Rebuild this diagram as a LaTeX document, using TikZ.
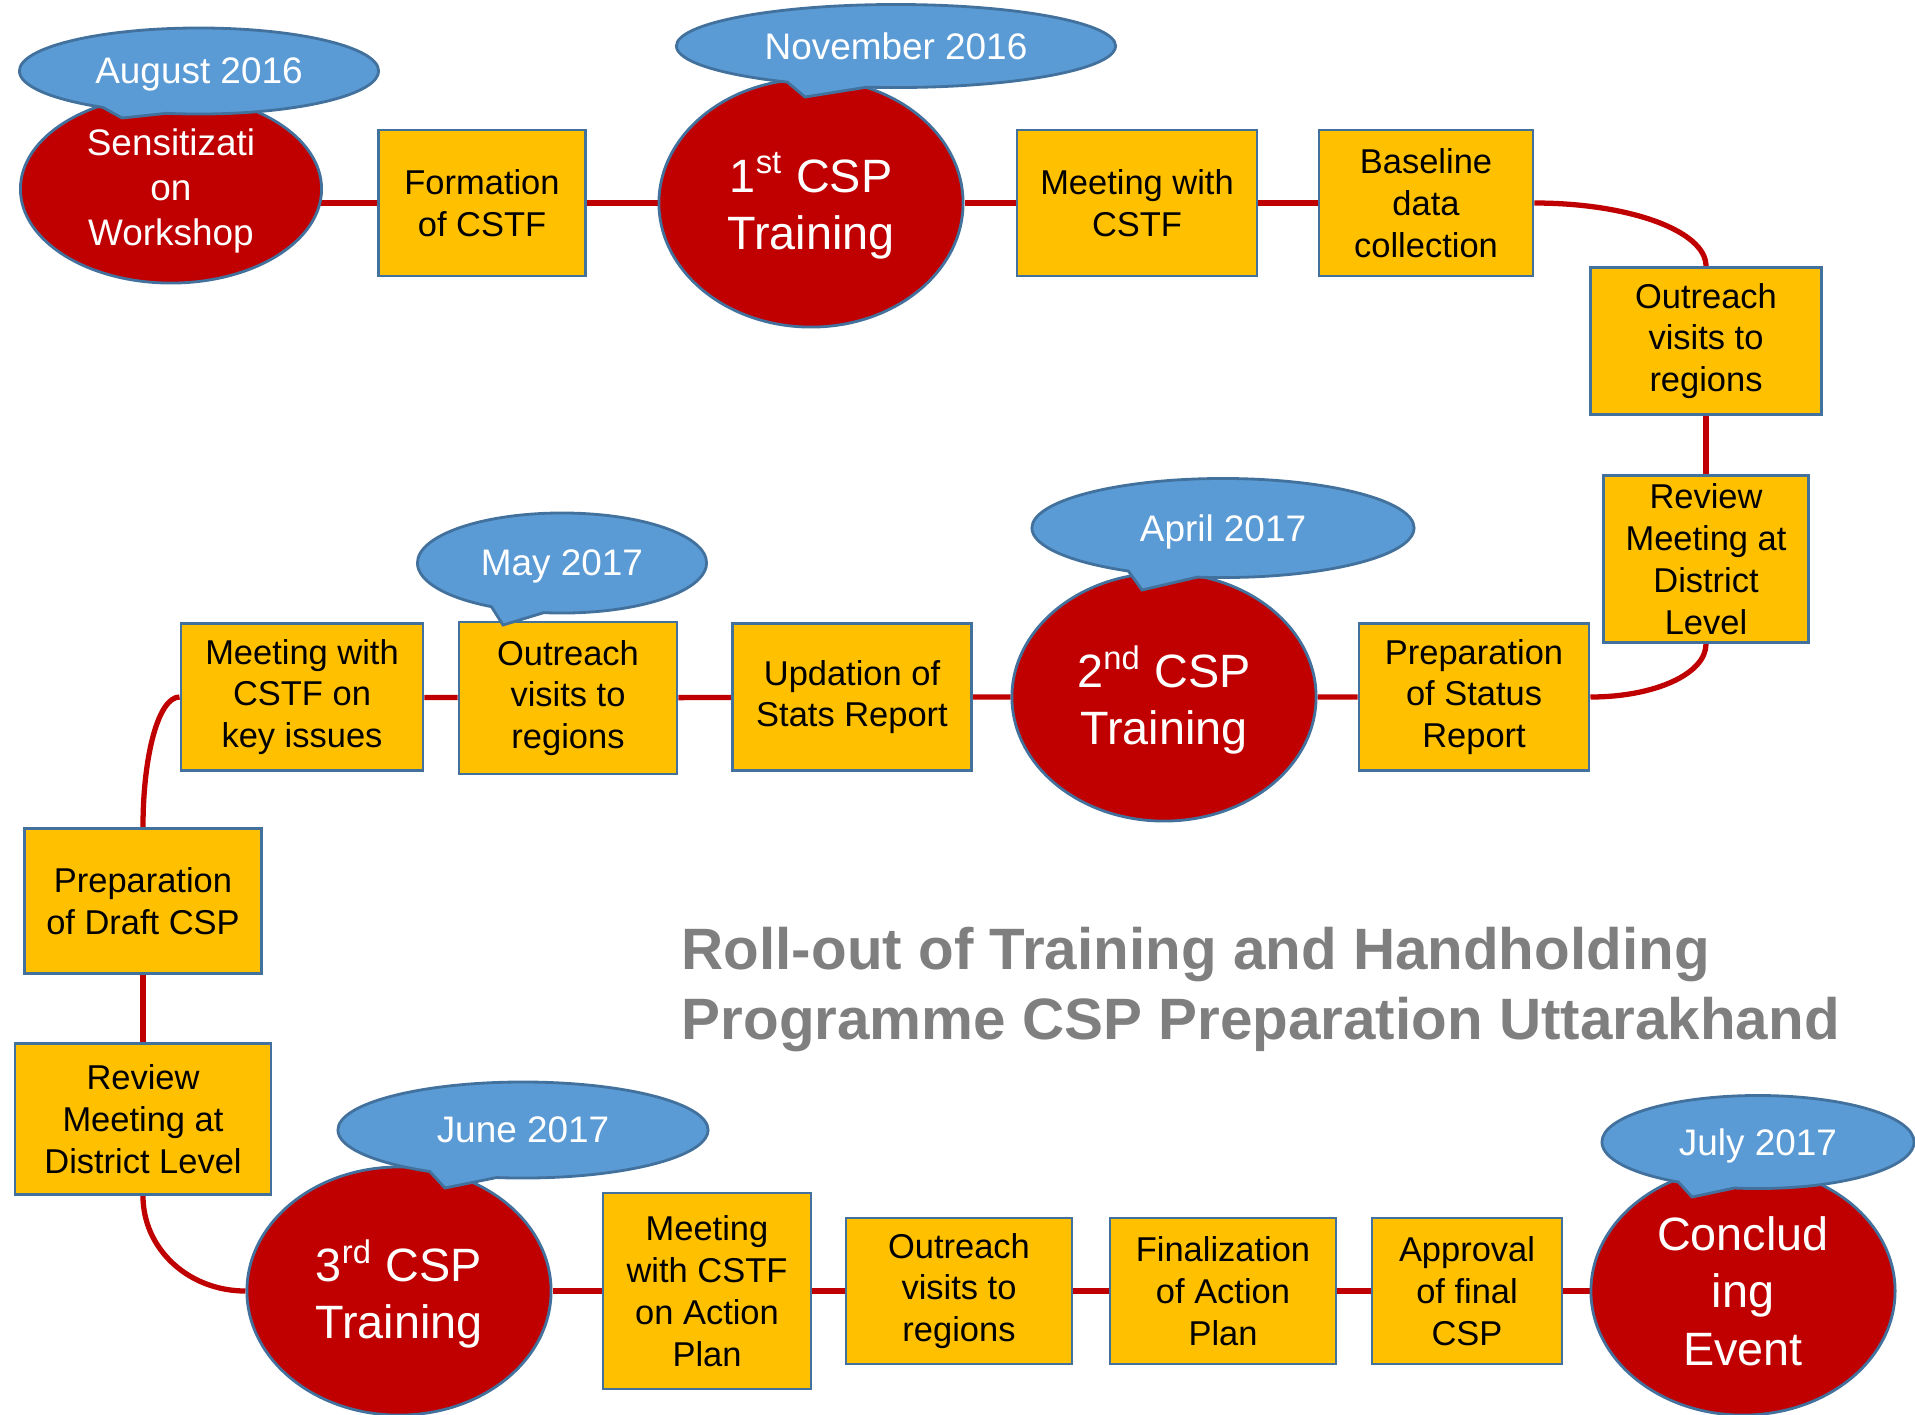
\documentclass[tikz,border=0pt]{standalone}
\usepackage{fontspec}
\setmainfont{Liberation Sans}
\usetikzlibrary{shapes.geometric,shapes.callouts,backgrounds}

\definecolor{eventred}{RGB}{192,0,0}
\definecolor{stepgold}{RGB}{255,192,0}
\definecolor{dateblue}{RGB}{91,155,213}
\definecolor{edgeblue}{RGB}{65,113,156}
\definecolor{titlegray}{RGB}{127,127,127}

\begin{document}
\begin{tikzpicture}[x=0.01cm,y=-0.01cm]

	% styles
	\tikzstyle{event}=[ellipse,draw=edgeblue,line width=0.8pt,fill=eventred,text=white,inner sep=0pt,align=center,text depth=1pt,minimum width=3.04cm,minimum height=2.48cm,font=\fontsize{13.3}{16.3}\selectfont];
	\tikzstyle{task}=[rectangle,draw=edgeblue,line width=0.8pt,fill=stepgold,inner sep=0pt,align=center,minimum height=1.46cm,font=\fontsize{9.8}{11.9}\selectfont];
	\tikzstyle{datebubble}=[ellipse callout,draw=edgeblue,line width=0.8pt,fill=dateblue,text=white,inner sep=0pt,text depth=0pt,callout pointer arc=22,font=\fontsize{10.5}{12.6}\selectfont];
	\tikzstyle{track}=[draw=eventred,line width=1.5pt];

	% page frame
	\useasboundingbox (0,0) rectangle (1915,1414);

	% first row, left to right
	\node[event,minimum width=3.01cm,minimum height=1.88cm,font=\fontsize{10.5}{12.8}\selectfont] (sensit) at (171,189) {Sensitizati\\on\\Workshop};
	\node[task,minimum width=2.07cm] (formcstf) at (482,203) {Formation\\of CSTF};
	\node[event] (csp1) at (811,203) {1\textsuperscript{st} CSP\\Training};
	\node[task,minimum width=2.40cm] (meetcstf) at (1137,203) {Meeting with\\CSTF};
	\node[task,minimum width=2.14cm] (baseline) at (1426,203) {Baseline\\data\\collection};

	% right side, going down
	\node[task,minimum width=2.31cm,minimum height=1.47cm] (outreachA) at (1706,341) {Outreach\\visits to\\regions};
	\node[task,minimum width=2.05cm,minimum height=1.67cm] (reviewA) at (1706,559) {Review\\Meeting at\\District\\Level};

	% second row, right to left
	\node[task,minimum width=2.30cm,minimum height=1.47cm] (statusrep) at (1474,697) {Preparation\\of Status\\Report};
	\node[event] (csp2) at (1164,697) {2\textsuperscript{nd} CSP\\Training};
	\node[task,minimum width=2.39cm,minimum height=1.47cm] (statsrep) at (852,697) {Updation of\\Stats Report};
	\node[task,minimum width=2.18cm,minimum height=1.52cm] (outreachB) at (568,698) {Outreach\\visits to\\regions};
	\node[task,minimum width=2.42cm,minimum height=1.47cm] (keyissues) at (302,697) {Meeting with\\CSTF on\\key issues};

	% left side, going down
	\node[task,minimum width=2.37cm,minimum height=1.45cm] (draftcsp) at (143,901) {Preparation\\of Draft CSP};
	\node[task,minimum width=2.56cm,minimum height=1.51cm] (reviewB) at (143,1119) {Review\\Meeting at\\District Level};

	% third row, left to right
	\node[event] (csp3) at (399,1291) {3\textsuperscript{rd} CSP\\Training};
	\node[task,minimum width=2.08cm,minimum height=1.96cm] (actionmeet) at (707,1291) {Meeting\\with CSTF\\on Action\\Plan};
	\node[task,minimum width=2.26cm] (outreachC) at (959,1291) {Outreach\\visits to\\regions};
	\node[task,minimum width=2.26cm] (finalplan) at (1223,1291) {Finalization\\of Action\\Plan};
	\node[task,minimum width=1.90cm] (approval) at (1467,1291) {Approval\\of final\\CSP};
	\node[event,text depth=-1.8pt] (concl) at (1743,1291) {Conclud\\ing\\Event};

	% where the date bubbles point
	\coordinate (augtip) at (122,118);
	\coordinate (novtip) at (805,97);
	\coordinate (aprtip) at (1142,590);
	\coordinate (maytip) at (503,625);
	\coordinate (juntip) at (445,1188);
	\coordinate (jultip) at (1692,1197);

	% date bubbles
	\node[datebubble,minimum width=3.59cm,minimum height=0.86cm,callout absolute pointer={(augtip)}] (aug) at (199,71) {August 2016};
	\node[datebubble,minimum width=4.39cm,minimum height=0.83cm,callout absolute pointer={(novtip)}] (nov) at (896,46) {November 2016};
	\node[datebubble,minimum width=3.82cm,minimum height=0.99cm,callout absolute pointer={(aprtip)}] (apr) at (1223,528) {April 2017};
	\node[datebubble,minimum width=2.89cm,minimum height=1.00cm,callout absolute pointer={(maytip)}] (may) at (562,563) {May 2017};
	\node[datebubble,minimum width=3.70cm,minimum height=0.96cm,callout absolute pointer={(juntip)}] (jun) at (523,1130) {June 2017};
	\node[datebubble,minimum width=3.12cm,minimum height=0.93cm,callout absolute pointer={(jultip)}] (jul) at (1758,1142) {July 2017};

	% title
	\node[anchor=west,align=left,inner sep=0pt,text=titlegray,font=\fontsize{16.6}{19.9}\selectfont\bfseries] (title) at (681,990) {Roll-out of Training and Handholding\\Programme CSP Preparation Uttarakhand};

	% the red track behind everything
	\begin{scope}[on background layer]
		\draw[track] (sensit.center |- formcstf.center) -- (formcstf) -- (csp1) -- (meetcstf) -- (baseline);
		\draw[track] (baseline.east) .. controls +(95,0) and +(0,-35) .. (outreachA.north);
		\draw[track] (outreachA) -- (reviewA);
		\draw[track] (reviewA.south) .. controls +(0,30) and +(64,0) .. (statusrep.east);
		\draw[track] (statusrep) -- (csp2) -- (statsrep) -- (outreachB) -- (keyissues);
		\draw[track] (keyissues.west) .. controls +(-21,0) and +(0,-72) .. (draftcsp.north);
		\draw[track] (draftcsp) -- (reviewB);
		\draw[track] (reviewB.south) .. controls +(0,53) and +(-57,0) .. (csp3.west);
		\draw[track] (csp3) -- (actionmeet) -- (outreachC) -- (finalplan) -- (approval) -- (concl);
	\end{scope}

\end{tikzpicture}
\end{document}
